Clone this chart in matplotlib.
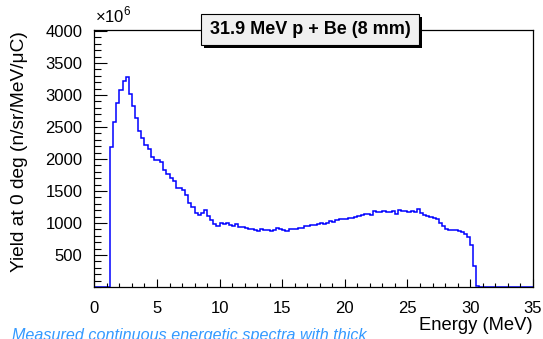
import numpy as np
import matplotlib
matplotlib.use("Agg")
import matplotlib.pyplot as plt
from matplotlib.patches import Rectangle

plt.rcParams['font.family'] = ['Liberation Sans', 'DejaVu Sans']
plt.rcParams['mathtext.fontset'] = 'custom'
plt.rcParams['mathtext.rm'] = 'Liberation Sans'

# neutron yield per 0.25 MeV bin, first bin starts at 1.25 MeV
bin_width = 0.25
first_bin = 1.25
yield_vals = [
    2180, 2580, 2870, 3080, 3220, 3280, 3020, 2830,   # 1.25 - 3.0
    2640, 2440, 2330, 2220, 2160, 2030, 1990, 1985,   # 3.25 - 5.0
    1950, 1830, 1765, 1700, 1655, 1545, 1540, 1515,   # 5.25 - 7.0
    1440, 1320, 1255, 1150, 1125, 1160, 1200, 1110,   # 7.25 - 9.0
    1045, 985, 955, 995, 985, 995, 975, 960,          # 9.25 - 11.0
    985, 940, 930, 915, 905, 905, 890, 875,           # 11.25 - 13.0
    900, 890, 885, 880, 890, 925, 900, 890,           # 13.25 - 15.0
    875, 900, 900, 905, 915, 925, 955, 960,           # 15.25 - 17.0
    975, 975, 980, 995, 985, 1000, 1030, 1015,        # 17.25 - 19.0
    1045, 1060, 1060, 1065, 1080, 1085, 1100, 1115,   # 19.25 - 21.0
    1125, 1135, 1145, 1130, 1185, 1170, 1165, 1185,   # 21.25 - 23.0
    1175, 1175, 1180, 1140, 1200, 1190, 1190, 1165,   # 23.25 - 25.0
    1185, 1170, 1215, 1150, 1130, 1110, 1095, 1075,   # 25.25 - 27.0
    1060, 1005, 950, 900, 890, 890, 885, 875,         # 27.25 - 29.0
    855, 835, 785, 650, 330, 20,                      # 29.25 - 30.5
]

title = "31.9 MeV p + Be (8 mm)"
x_title = "Energy (MeV)"
y_title = "Yield at 0 deg (n/sr/MeV/\u03bcC)"
caption = "Measured continuous energetic spectra with thick"

# full histogram 0 - 35 MeV, empty outside the measured range
edges = np.arange(0, 35 + bin_width / 2, bin_width)
counts = np.zeros(len(edges) - 1)
i0 = int(round(first_bin / bin_width))
counts[i0:i0 + len(yield_vals)] = yield_vals

W, H = 543, 339
fig = plt.figure(figsize=(W / 100, H / 100), dpi=100)
ax = fig.add_axes([94.4 / W, 1 - 287 / H, (532.7 - 94.4) / W, (287 - 30) / H])

ax.stairs(counts, edges, color='#0000ff', lw=1.1, baseline=0)

ax.set_xlim(0, 35)
ax.set_ylim(0, 4016)
ax.set_xticks(range(0, 36, 5))
ax.set_xticks(range(0, 36), minor=True)
ax.set_yticks(range(500, 4001, 500))
ax.set_yticks(range(0, 4001, 100), minor=True)

for s in ax.spines.values():
    s.set_linewidth(0.9)
ax.tick_params(axis='both', which='both', direction='in', width=0.8, labelsize=12)
ax.tick_params(axis='y', which='major', length=9.4, pad=8.5)
ax.tick_params(axis='y', which='minor', length=4.7)
ax.tick_params(axis='x', which='major', length=5.5, pad=10)
ax.tick_params(axis='x', which='minor', length=2.8)

fig.text(20 / W, 1 - 31 / H, y_title, rotation=90, ha='center', va='top', fontsize=13.8)
fig.text(533 / W, 1 - 326 / H, x_title, ha='right', va='center', fontsize=13.2)
fig.text(95 / W, 1 - 22 / H, "\u00d710$^{6}$", ha='left', va='baseline', fontsize=12)

# title box with shadow
fig.add_artist(Rectangle((204 / W, 1 - 48 / H), 218 / W, 31 / H, transform=fig.transFigure,
                         fc='black', ec='none', zorder=5))
fig.add_artist(Rectangle((201 / W, 1 - 45 / H), 218 / W, 31 / H, transform=fig.transFigure,
                         fc='#f0f0f0', ec='black', lw=0.8, zorder=6))
fig.text(310 / W, 1 - 29.5 / H, title, ha='center', va='center', fontsize=13,
         fontweight='bold', zorder=7)

fig.text(12 / W, 1 - 340 / H, caption, ha='left', va='baseline', fontsize=11.6,
         style='italic', color='#3399ff')

fig.savefig("out.png", dpi=100)
